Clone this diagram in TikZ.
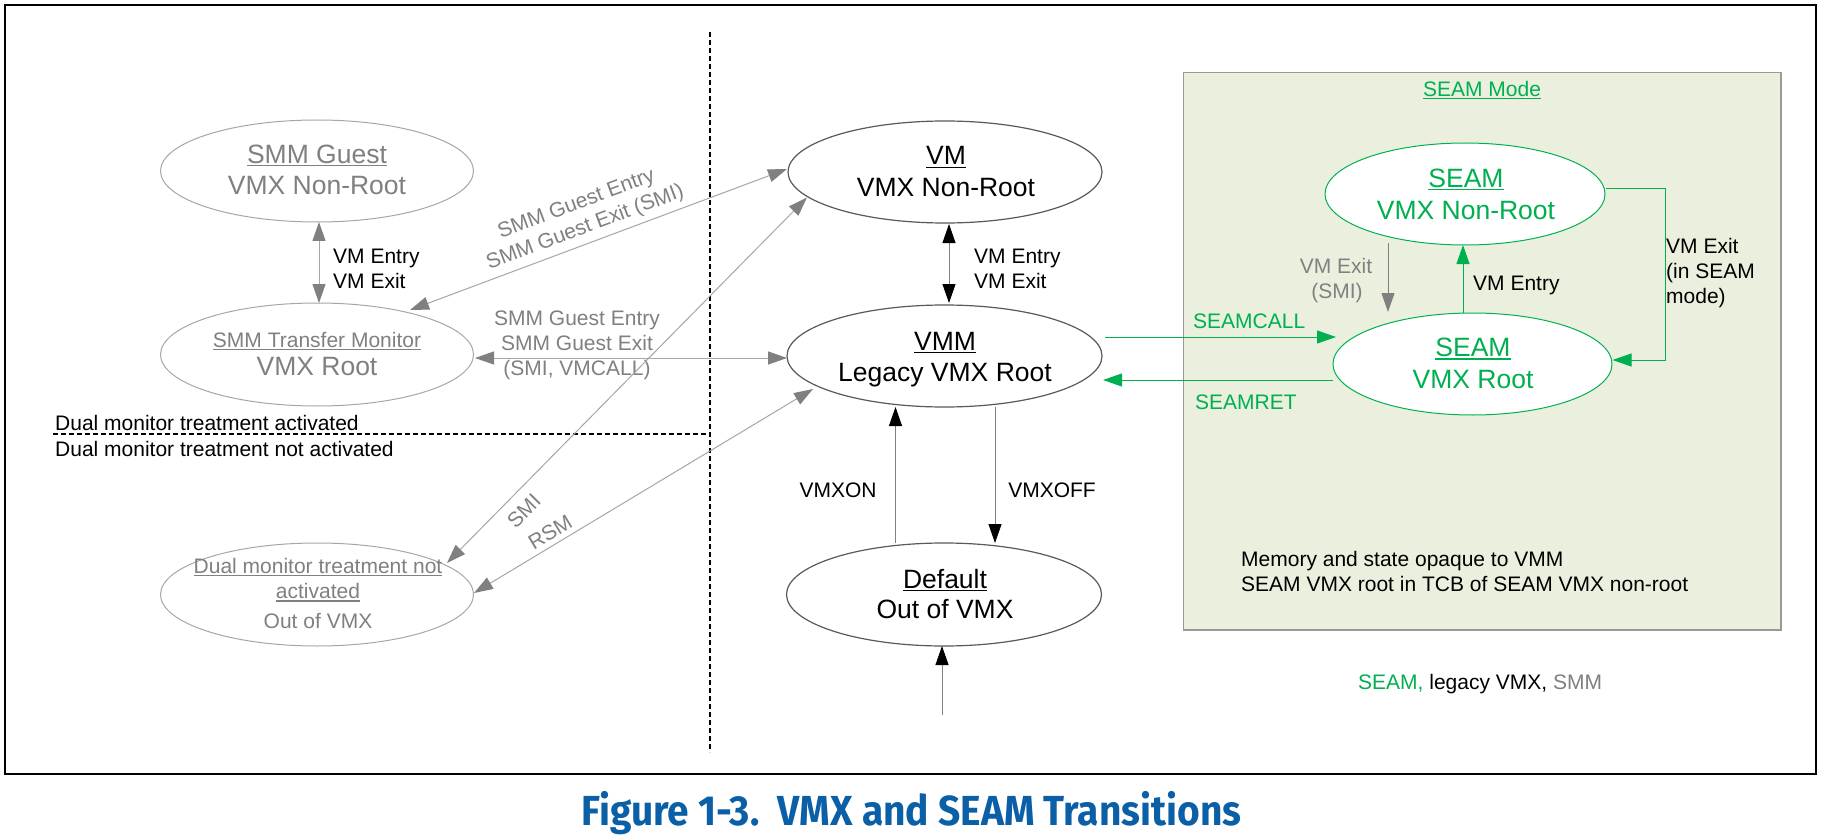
\documentclass[tikz,border=0pt]{standalone}
\usepackage{fontspec}
\usepackage{graphicx}
\setmainfont{Liberation Sans}
\newfontfamily\titlefont{Fira Sans}
\usetikzlibrary{arrows.meta,calc,shapes.geometric}
\definecolor{smmgray}{HTML}{808080}
\definecolor{smmline}{HTML}{A6A6A6}
\definecolor{seamgreen}{HTML}{00B050}
\definecolor{seamfill}{HTML}{EBF0DE}
\definecolor{titleblue}{HTML}{0A5FA6}
\definecolor{ellborder}{HTML}{595959}
\definecolor{darkline}{HTML}{808080}
\definecolor{boxborder}{HTML}{999999}
\newcommand{\myul}[1]{\sbox0{#1}\rlap{\rule[-3pt]{\wd0}{1.2pt}}\usebox0}
\tikzset{
  gtip/.tip={Triangle[length=19pt,width=13pt,color=smmgray]},
  btip/.tip={Triangle[length=19pt,width=13pt,color=black]},
  ftip/.tip={Triangle[length=19pt,width=13pt,color=seamgreen]},
}
\begin{document}
\begin{tikzpicture}[x=1pt,y=-1pt,
  big/.style={font=\fontsize{26.5}{32}\selectfont, inner sep=0pt, anchor=base},
  small/.style={font=\fontsize{21}{25}\selectfont, inner sep=0pt, anchor=base},
  smallw/.style={small, anchor=base west},
  state/.style={ellipse, draw=ellborder, line width=1.2pt, fill=white, inner sep=0pt},
  smmstate/.style={state, draw=smmline, line width=1pt},
  seamstate/.style={state, draw=seamgreen, line width=1pt},
  smmarrow/.style={draw=smmline, line width=1pt, arrows={gtip-gtip}},
  smmarrowone/.style={draw=smmgray, line width=1pt, arrows={-gtip}},
  blkarrow/.style={draw=darkline, line width=1pt, arrows={-btip}},
  blkarrowtwo/.style={draw=darkline, line width=1pt, arrows={btip-btip}},
  grnarrow/.style={draw=seamgreen, line width=1pt, arrows={-ftip}},
  divider/.style={draw=black, line width=1.2pt, dash pattern=on 5pt off 3pt},
]
\useasboundingbox (0,0) rectangle (1823,837);
\fill[white] (0,0) rectangle (1823,837);
\draw[line width=2.5pt] (5,5) rectangle (1816,774);

% dividers
\draw[divider] (710,32) -- (710,752);
\draw[divider] (53,434) -- (710,434);
\node[smallw] (dmtA) at (55,430.5) {Dual monitor treatment activated};
\node[smallw] (dmtB) at (55,456.5) {Dual monitor treatment not activated};

% SEAM mode box
\node[draw=boxborder, fill=seamfill, line width=1.5pt, anchor=north west,
      minimum width=597.5pt, minimum height=557pt, inner sep=0pt] (seambox) at (1182.5,72) {};
\node[small, text=seamgreen] (seamtitle) at (1482,96.5) {\myul{SEAM Mode}};

% states
\node[smmstate, minimum width=313pt, minimum height=102pt] (smmg) at (317,171) {};
\node[smmstate, minimum width=313pt, minimum height=103pt] (smmtm) at (317,354.5) {};
\node[smmstate, minimum width=313pt, minimum height=103pt] (dual) at (317,594.5) {};
\node[state, minimum width=314pt, minimum height=102pt] (vm) at (945,172) {};
\node[state, minimum width=315pt, minimum height=102pt] (vmm) at (944.5,356) {};
\node[state, minimum width=315pt, minimum height=103pt] (dflt) at (944,594.5) {};
\node[seamstate, minimum width=280pt, minimum height=102pt] (seamnr) at (1465,194) {};
\node[seamstate, minimum width=279pt, minimum height=102pt] (seamr) at (1472.5,364) {};

% state texts
\node[big, text=smmgray] (smmgA) at (317,163.5) {\myul{SMM Guest}};
\node[big, text=smmgray] (smmgB) at (317,195) {VMX Non-Root};
\node[small, text=smmgray] (smmtmA) at (317,347) {\myul{SMM Transfer Monitor}};
\node[big, text=smmgray] (smmtmB) at (317,375.5) {VMX Root};
\node[small, text=smmgray] (dualA) at (318,573) {\myul{Dual monitor treatment not}};
\node[small, text=smmgray] (dualB) at (318,598.5) {\myul{activated}};
\node[small, text=smmgray] (dualC) at (318,628) {Out of VMX};
\node[big] (vmA) at (946,165) {\myul{VM}};
\node[big] (vmB) at (946,196.5) {VMX Non-Root};
\node[big] (vmmA) at (945,350) {\myul{VMM}};
\node[big] (vmmB) at (945,381.5) {Legacy VMX Root};
\node[big] (dfltA) at (945,588) {\myul{Default}};
\node[big] (dfltB) at (945,618) {Out of VMX};
\node[big, text=seamgreen] (seamnrA) at (1466,187.5) {\myul{SEAM}};
\node[big, text=seamgreen] (seamnrB) at (1466,219) {VMX Non-Root};
\node[big, text=seamgreen] (seamrA) at (1473,356.5) {\myul{SEAM}};
\node[big, text=seamgreen] (seamrB) at (1473,388) {VMX Root};

% SMM side transitions
\draw[smmarrow] ($(smmg.center)+(2,51)$) -- ($(smmtm.center)+(2,-51.5)$);
\node[smallw] (smmeA) at (333,263) {VM Entry};
\node[smallw] (smmeB) at (333,288) {VM Exit};

\draw[smmarrow] ($(smmtm.center)+(93,-44.5)$) -- ($(vm.center)+(-158,-3)$);
\node[small, anchor=center, align=center, text=smmgray, rotate=20.5] (sgL) at (581,216.5)
      {SMM Guest Entry\\SMM Guest Exit (SMI)};

\draw[smmarrow] ($(smmtm.center)+(158,3.5)$) -- ($(vmm.center)+(-157.5,2)$);
\node[small, text=smmgray] (shA) at (577,325) {SMM Guest Entry};
\node[small, text=smmgray] (shB) at (577,350) {SMM Guest Exit};
\node[small, text=smmgray] (shC) at (577,375) {(SMI, VMCALL)};

\draw[smmarrow] ($(vm.center)+(-138,25.5)$) -- ($(dual.center)+(130,-31.5)$);
\node[small, text=smmgray, rotate=45.5] (smiL) at (529,516) {SMI};
\draw[smmarrow] ($(dual.center)+(157,-1.5)$) -- ($(vmm.center)+(-131.5,33)$);
\node[small, text=smmgray, rotate=31] (rsmL) at (553.9,538.4) {RSM};

% legacy VMX transitions
\draw[blkarrowtwo] ($(vm.center)+(4,52)$) -- ($(vmm.center)+(4.5,-53)$);
\node[smallw] (vmeA) at (974,263) {VM Entry};
\node[smallw] (vmeB) at (974,288) {VM Exit};
\draw[blkarrow] ($(dflt.center)+(-48.5,-51.5)$) -- ($(vmm.center)+(-49,51)$);
\node[small] (vmxon) at (838,497) {VMXON};
\draw[blkarrow] ($(vmm.center)+(50.5,51)$) -- ($(dflt.center)+(51,-51.5)$);
\node[small] (vmxoff) at (1052,497) {VMXOFF};
\coordinate (reset) at (942,715);
\draw[blkarrow] (reset) -- ($(dflt.center)+(-2,51.5)$);

% SEAM transitions
\draw[grnarrow] ($(vmm.center)+(160.5,-19)$) -- ($(seamr.center)+(-136.5,-27)$);
\node[smallw, text=seamgreen] (seamcall) at (1193,328) {SEAMCALL};
\draw[grnarrow] ($(seamr.center)+(-139.5,16)$) -- ($(vmm.center)+(158.5,24)$);
\node[smallw, text=seamgreen] (seamret) at (1195,409) {SEAMRET};
\draw[grnarrow] ($(seamr.center)+(-9.5,-51)$) -- ($(seamnr.center)+(-2,51)$);
\node[smallw] (seamentry) at (1473,290.5) {VM Entry};
\draw[smmarrowone] ($(seamnr.center)+(-77,49)$) -- ($(seamr.center)+(-84.5,-52)$);
\node[small, text=smmgray] (smiexA) at (1336,273) {VM Exit};
\node[small, text=smmgray] (smiexB) at (1337,298) {(SMI)};
\draw[grnarrow] ($(seamnr.east)+(0,-5)$) -- ++(60,0) |- ($(seamr.east)+(0,-4)$);
\node[smallw] (seamexA) at (1666,253) {VM Exit};
\node[smallw] (seamexB) at (1666,278) {(in SEAM};
\node[smallw] (seamexC) at (1666,303) {mode)};

% notes
\node[smallw] (noteA) at (1241,566.5) {Memory and state opaque to VMM};
\node[smallw] (noteB) at (1241,591) {SEAM VMX root in TCB of SEAM VMX non-root};
\node[smallw] (legend) at (1358,689) {\textcolor{seamgreen}{SEAM,} legacy VMX, \textcolor{smmgray}{SMM}};

% caption
\node[anchor=base west, inner sep=0pt, text=titleblue,
      font=\titlefont\fontsize{42}{48}\selectfont\bfseries] (caption) at (581,825)
      {\resizebox{660pt}{\height}{Figure 1-3.\ \ VMX and SEAM Transitions}};
\end{tikzpicture}
\end{document}
